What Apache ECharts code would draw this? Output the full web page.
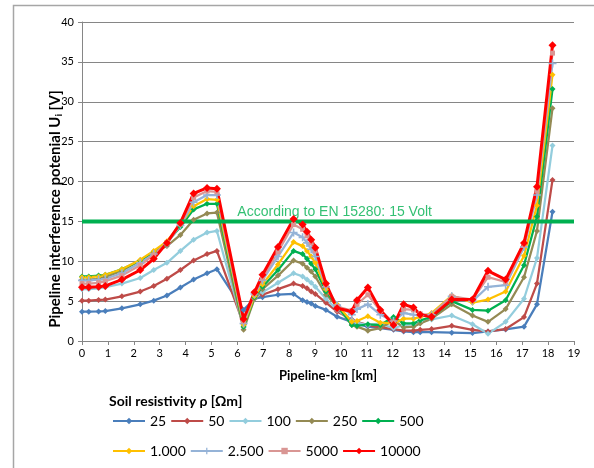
<!DOCTYPE html>
<html>
<head>
<meta charset="utf-8">
<script src="https://cdn.jsdelivr.net/npm/echarts@6/dist/echarts.min.js"></script>
<style>
html,body{margin:0;padding:0;background:#fff}
#chart{width:594px;height:468px}
</style>
</head>
<body>
<div id="chart"></div>
<script>
// pipeline position (km) shared by all curves
var km = [0, 0.26, 0.64, 0.9, 1.54, 2.25, 2.77, 3.28, 3.8, 4.31, 4.83, 5.21,
          6.24, 6.66, 6.97, 7.57, 8.17, 8.52, 8.69, 8.85, 9.01, 9.42,
          9.85, 10.42, 10.62, 11.04, 11.52, 12.03, 12.42, 12.8, 13.06, 13.5,
          14.28, 15.08, 15.68, 16.36, 17.07, 17.57, 18.17];

// interference potential [V] per soil resistivity
var u25 = [3.67, 3.67, 3.7, 3.75, 4.1, 4.6, 5.06, 5.7, 6.7, 7.7, 8.5, 9.0,
           3.9, 5.3, 5.5, 5.8, 5.9, 5.1, 4.9, 4.7, 4.4, 3.9,
           3.05, 2.4, 2.1, 1.8, 1.6, 1.4, 1.2, 1.1, 1.1, 1.1,
           1.05, 1.0, 1.2, 1.45, 1.8, 4.6, 16.2];
var u50 = [5.06, 5.06, 5.15, 5.2, 5.6, 6.2, 6.9, 7.8, 8.9, 10.1, 10.9, 11.3,
           2.1, 5.4, 5.8, 6.5, 7.2, 6.9, 6.6, 6.2, 5.9, 4.8,
           3.7, 2.7, 2.4, 2.0, 1.7, 1.5, 1.3, 1.3, 1.4, 1.5,
           1.9, 1.4, 1.2, 1.5, 3.0, 7.2, 20.2];
var u100 = [6.5, 6.5, 6.6, 6.75, 7.2, 7.9, 8.9, 9.8, 11.3, 12.7, 13.6, 13.8,
            1.7, 5.3, 6.1, 7.3, 8.5, 8.1, 7.7, 7.3, 6.8, 5.3,
            3.9, 2.6, 2.3, 2.0, 2.2, 1.6, 2.0, 2.1, 2.4, 2.7,
            3.2, 2.1, 0.9, 2.4, 5.3, 10.4, 24.5];
var u250 = [7.7, 7.7, 7.8, 8.0, 8.8, 10.1, 11.1, 11.9, 13.3, 15.2, 16.0, 16.1,
            1.4, 5.3, 6.5, 8.2, 10.1, 9.7, 9.2, 8.7, 8.1, 5.8,
            4.4, 2.0, 1.8, 1.3, 1.6, 2.6, 1.7, 1.8, 2.2, 2.8,
            4.6, 3.2, 2.4, 4.0, 8.0, 13.8, 29.2];
var u500 = [8.1, 8.1, 8.2, 8.3, 9.0, 10.1, 11.2, 12.4, 14.3, 16.5, 17.2, 17.2,
            1.8, 5.5, 6.8, 8.9, 11.3, 10.9, 10.3, 9.7, 9.0, 6.2,
            4.5, 2.0, 1.9, 2.1, 2.0, 3.0, 2.2, 2.2, 2.6, 3.0,
            5.0, 3.9, 3.8, 5.1, 9.5, 15.6, 31.6];
var u1000 = [8.0, 8.0, 8.1, 8.3, 9.0, 10.2, 11.3, 12.5, 14.6, 16.9, 17.8, 17.7,
             2.0, 5.6, 7.1, 9.6, 12.4, 11.9, 11.3, 10.6, 9.8, 6.5,
             4.6, 2.4, 2.5, 3.1, 2.3, 2.2, 2.8, 2.8, 3.0, 3.5,
             5.7, 4.8, 5.2, 6.2, 10.7, 17.0, 33.4];
var u2500 = [7.6, 7.6, 7.7, 7.8, 8.5, 9.8, 10.9, 12.2, 14.5, 17.4, 18.3, 18.3,
             2.2, 5.9, 7.6, 10.6, 13.6, 13.0, 12.3, 11.5, 10.6, 6.8,
             4.5, 3.3, 4.0, 4.6, 3.3, 2.5, 3.5, 3.3, 3.2, 3.3,
             5.6, 5.0, 6.8, 7.0, 11.8, 18.3, 34.8];
var u5000 = [7.2, 7.2, 7.3, 7.5, 8.2, 9.5, 10.8, 12.3, 14.7, 18.0, 18.8, 18.7,
             2.5, 6.0, 7.9, 11.2, 14.6, 14.0, 13.2, 12.3, 11.3, 7.0,
             4.3, 3.8, 4.6, 5.8, 3.8, 2.3, 4.0, 3.9, 3.4, 3.2,
             5.6, 5.2, 8.0, 7.4, 12.0, 18.8, 36.1];
var u10000 = [6.75, 6.75, 6.8, 6.9, 7.7, 8.9, 10.3, 12.3, 14.8, 18.5, 19.2, 19.1,
              2.76, 6.1, 8.3, 11.8, 15.3, 14.6, 13.7, 12.7, 11.7, 7.2,
              4.1, 3.7, 5.1, 6.7, 3.9, 2.0, 4.6, 4.2, 3.3, 3.05,
              5.2, 5.2, 8.8, 7.7, 12.3, 19.35, 37.1];

var names = ['25', '50', '100', '250', '500', '1.000', '2.500', '5000', '10000'];
var limit = 15;
var limitText = 'According to EN 15280: 15 Volt';

var plus = 'path://M4,0h2v4h4v2h-4v4h-2v-4h-4v-2h4z';

function curve(name, vals, color, symbol, size, width) {
    return {
        name: name,
        type: 'line',
        data: km.map(function (x, i) { return [x, vals[i]]; }),
        symbol: symbol,
        symbolSize: size,
        lineStyle: { color: color, width: width },
        itemStyle: { color: color },
        emphasis: { disabled: true }
    };
}

var chart = echarts.init(document.getElementById('chart'));
var font = 'Lato, "Noto Sans", sans-serif';

var legendBase = {
    left: 107,
    itemWidth: 32,
    itemHeight: 8,
    itemGap: 4,
    selectedMode: false,
    textStyle: { fontFamily: font, fontSize: 14, color: '#000', width: 40 }
};

var option = {
    animation: false,
    grid: { left: 82, right: 20, top: 22, bottom: 127 },
    title: {
        text: 'Soil resistivity ρ [Ωm]',
        left: 104, top: 389,
        textStyle: { fontFamily: font, fontSize: 14, fontWeight: 'bold', color: '#000' }
    },
    legend: [
        Object.assign({}, legendBase, { top: 409, data: names.slice(0, 5) }),
        Object.assign({}, legendBase, { top: 439, data: names.slice(5) })
    ],
    xAxis: {
        type: 'value', min: 0, max: 19, interval: 1,
        name: 'Pipeline-km [km]', nameLocation: 'middle', nameGap: 28,
        nameTextStyle: { fontFamily: font, fontSize: 13, fontWeight: 'bold', color: '#000' },
        axisLine: { lineStyle: { color: '#868686' } },
        axisTick: { length: 4, lineStyle: { color: '#868686' } },
        axisLabel: { fontFamily: font, fontSize: 11, color: '#000', margin: 7 },
        splitLine: { show: false }
    },
    yAxis: {
        type: 'value', min: 0, max: 40, interval: 5,
        axisLine: { show: true, lineStyle: { color: '#868686' } },
        axisTick: { show: true, length: 4, lineStyle: { color: '#868686' } },
        axisLabel: { fontFamily: font, fontSize: 11, color: '#000', margin: 8 },
        splitLine: { lineStyle: { color: '#868686' } }
    },
    graphic: [{
        type: 'rect', silent: true,
        shape: { x: 13.5, y: 5.5, width: 700, height: 700 },
        style: { fill: 'none', stroke: '#a6a6a6', lineWidth: 1.5 }
    }, {
        // y axis title, placed like the original (below plot centre)
        type: 'text', silent: true,
        x: 55, y: 209, rotation: Math.PI / 2,
        style: {
            text: 'Pipeline interference potenial U{sub|i} [V]',
            align: 'center', verticalAlign: 'middle',
            font: 'bold 15px Lato, "Noto Sans", sans-serif',
            fill: '#000',
            rich: { sub: { font: 'bold 10px Lato, "Noto Sans", sans-serif', fill: '#000', padding: [7, 0, 0, 0] } }
        }
    }],
    series: [
        curve(names[0], u25, '#4A7EBB', 'diamond', 6, 2.25),
        curve(names[1], u50, '#BE4B48', 'diamond', 6, 2.25),
        curve(names[2], u100, '#93CDDD', 'diamond', 6, 2.25),
        curve(names[3], u250, '#948A54', 'diamond', 6, 2.25),
        curve(names[4], u500, '#00B050', 'diamond', 6, 2.25),
        curve(names[5], u1000, '#FFC000', 'diamond', 6, 2.25),
        curve(names[6], u2500, '#95B3D7', plus, 8, 2.25),
        curve(names[7], u5000, '#D99694', 'rect', 5, 2.25),
        curve(names[8], u10000, '#FF0000', 'diamond', 8, 3),
        {
            name: 'limit', type: 'line',
            data: [[0, limit], [19, limit]],
            symbol: 'none',
            lineStyle: { color: '#00B050', width: 4 },
            silent: true
        },
        {
            name: 'limitLabel', type: 'scatter',
            data: [[6, limit]],
            symbolSize: 1,
            itemStyle: { color: 'rgba(0,0,0,0)' },
            label: {
                show: true, position: 'top', align: 'left', distance: 2,
                formatter: limitText,
                fontFamily: '"Liberation Sans", Arial, sans-serif', fontSize: 14, color: '#00B050'
            },
            silent: true
        }
    ]
};

chart.setOption(option);
</script>
</body>
</html>
